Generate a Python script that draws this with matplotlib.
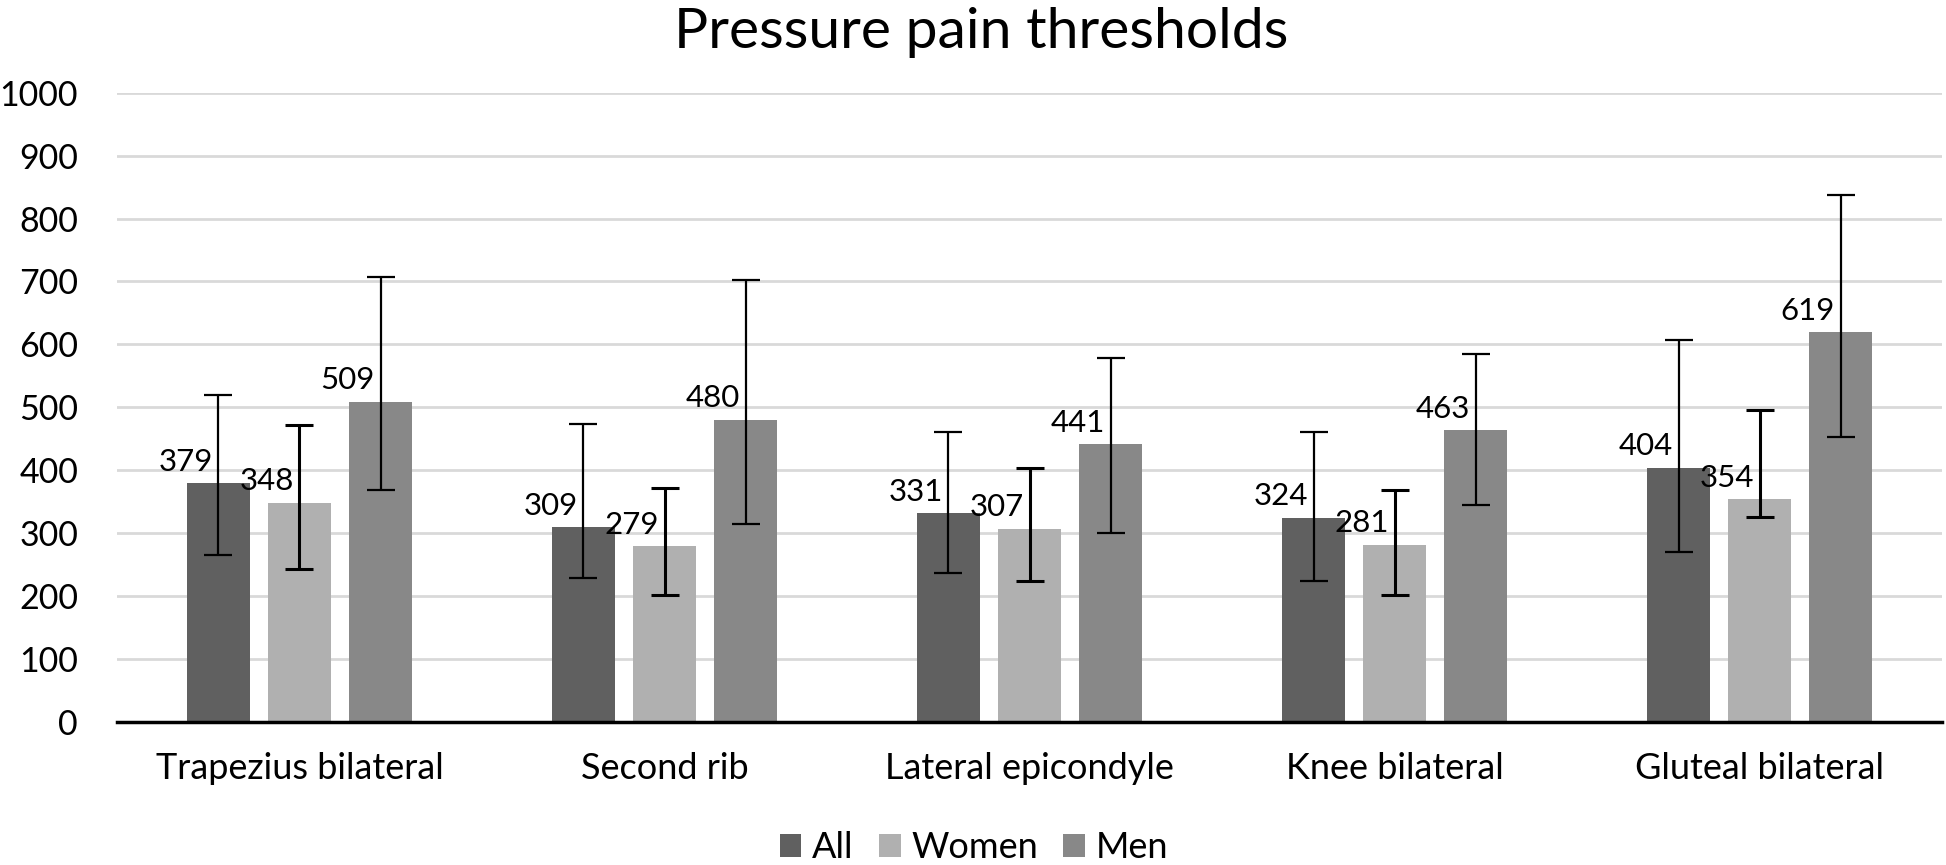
import numpy as np
import matplotlib.pyplot as plt

plt.rcParams['font.family'] = ['Lato', 'DejaVu Sans']

categories = ['Trapezius bilateral', 'Second rib', 'Lateral epicondyle', 'Knee bilateral', 'Gluteal bilateral']
series = ['All', 'Women', 'Men']

all_vals = [379, 309, 331, 324, 404]
women_vals = [348, 279, 307, 281, 354]
men_vals = [509, 480, 441, 463, 619]

# error bar ends (asymmetric)
all_low = [265, 228, 237, 223, 269]
all_high = [519, 473, 461, 461, 607]
women_low = [243, 202, 224, 202, 326]
women_high = [471, 371, 403, 369, 496]
men_low = [369, 315, 300, 344, 453]
men_high = [707, 702, 579, 585, 838]

colors = ['#606060', '#b0b0b0', '#888888']

fig = plt.figure(figsize=(19.46, 8.65), dpi=100)
ax = fig.add_axes([0.0601, 0.1657, 0.9379, 0.7271])

x = np.arange(len(categories))
step = 0.222
width = 0.174

data = [(all_vals, all_low, all_high), (women_vals, women_low, women_high), (men_vals, men_low, men_high)]
for i, (vals, lo, hi) in enumerate(data):
    vals = np.array(vals)
    pos = x + (i - 1) * step
    yerr = [vals - np.array(lo), np.array(hi) - vals]
    ax.bar(pos, vals, width, color=colors[i], label=series[i], zorder=2)
    ax.errorbar(pos, vals, yerr=yerr, fmt='none', ecolor='black',
                elinewidth=2.2 if i == 1 else 1.6, capsize=10,
                capthick=2.2 if i == 1 else 1.6, zorder=3)
    for p, v in zip(pos, vals):
        ax.annotate(str(v), (p, v), xytext=(-4, 9), textcoords='offset points',
                    ha='right', va='baseline', fontsize=22.5, zorder=4)

ax.set_ylim(0, 1000)
ax.set_xlim(-0.5, 4.5)
ax.set_yticks(np.arange(0, 1001, 100))
ax.yaxis.grid(True, color='#d9d9d9', linewidth=2, zorder=0)
ax.set_axisbelow(True)
ax.set_xticks(x)
ax.set_xticklabels(categories)
ax.tick_params(axis='y', length=0, labelsize=24.5, pad=28)
ax.tick_params(axis='x', length=0, labelsize=26, pad=22)
for s in ['top', 'right', 'left']:
    ax.spines[s].set_visible(False)
ax.spines['bottom'].set_linewidth(2.5)
ax.spines['bottom'].set_zorder(5)

fig.text(0.504, 1 - 32 / 865, 'Pressure pain thresholds', ha='center', va='center', fontsize=41)
fig.legend(loc='center', bbox_to_anchor=(0.5005, 0.0197), ncol=3, frameon=False,
           fontsize=26, handlelength=0.6, handleheight=0.6, handletextpad=0.3,
           columnspacing=0.7)

fig.savefig('out.png', dpi=100)
